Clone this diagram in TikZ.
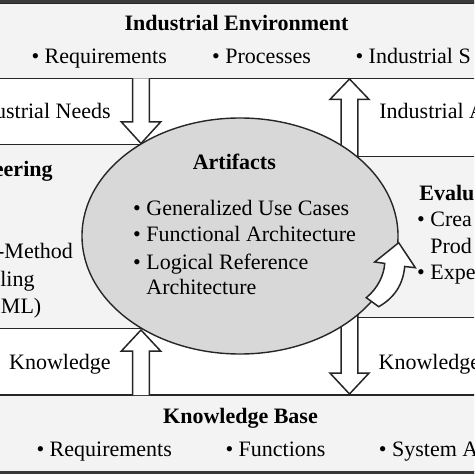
\documentclass[tikz,border=0pt]{standalone}
\usepackage{fontspec}
\setmainfont{Liberation Serif}
\usetikzlibrary{shapes.geometric}
\definecolor{linegray}{HTML}{262626}
\definecolor{framegray}{HTML}{3A3A3A}
\definecolor{panelgray}{HTML}{F3F3F3}
\definecolor{artgray}{HTML}{D8D8D8}
\newcommand\bodyfont{\fontsize{11}{13.2}\selectfont}
\tikzset{
  panel/.style={draw=linegray,fill=panelgray,line width=0.75pt},
  blockarrow/.style={draw=linegray,fill=white,line width=0.75pt},
  txt/.style={inner sep=0pt,anchor=base west},
  txtr/.style={inner sep=0pt,anchor=base east},
  bold/.style={font=\bodyfont\bfseries},
  ttl/.style={inner sep=0pt,anchor=base,bold},
}
\begin{document}
\begin{tikzpicture}[x=0.5pt,y=-0.5pt,font=\bodyfont]
\useasboundingbox (0,0) rectangle (474,474);
\clip (0,0) rectangle (474,474);
% panels
\draw[panel] (-5,3) rectangle (479,78.5);
\draw[panel] (-5,395) rectangle (479,471.5);
\draw[panel] (-5,144.5) rectangle (240,328.3);
\draw[panel] (240,156.7) rectangle (479,317.3);
\draw[framegray,line width=1.5pt] (-5,1.5) rectangle (479,472.5);
% straight block arrows
\foreach \x/\ya/\yb/\yt in {141/78.5/122/143.5, 141/395/351/330, 349.5/160/99.5/79, 349.5/312/373/394}
  \draw[blockarrow] (\x-8.4,\ya) -- (\x-8.4,\yb) -- (\x-19.6,\yb) -- (\x,\yt) -- (\x+19.6,\yb) -- (\x+8.4,\yb) -- (\x+8.4,\ya);
% artifacts
\node[ellipse,draw=linegray,fill=artgray,line width=0.7pt,minimum width=158pt,minimum height=118pt,inner sep=0pt] (art) at (240,236) {};
\draw[blockarrow] (366.3,297.7) .. controls (378,288) and (384,275) .. (384.7,263.4) -- (374.7,262) -- (398.7,242.7) -- (415.3,267.7) -- (404.7,266.5) .. controls (403,285) and (394,298) .. (378.7,306.7) -- cycle;
% texts
\node[ttl] (envtitle) at (236.5,30.5) {Industrial Environment};
\node[txt] (env1) at (31.1,63.3) {\textbullet{} Requirements};
\node[txt] (env2) at (211.8,63.3) {\textbullet{} Processes};
\node[txt] (env3) at (355.1,63.3) {\textbullet{} Industrial S};
\node[txtr] (needs) at (111,118.5) {ustrial Needs};
\node[txt] (appl) at (379,119) {Industrial A};
\node[txtr,bold] (engtitle) at (53,176.7) {eering};
\node[txtr] (eng1) at (73.3,258.3) {-Method};
\node[txtr] (eng2) at (35,286.7) {ling};
\node[txtr] (eng3) at (41.7,313.3) {ML)};
\node[ttl] (arttitle) at (234.3,170) {Artifacts};
\node[txt] (art1) at (132.8,216) {\textbullet{} Generalized Use Cases};
\node[txt] (art2) at (132.8,241.7) {\textbullet{} Functional Architecture};
\node[txt] (art3) at (132.8,269.3) {\textbullet{} Logical Reference};
\node[txt] (art4) at (146,295) {Architecture};
\node[txt,bold] (evaltitle) at (419,201) {Evalu};
\node[txt] (eval1) at (416.8,227) {\textbullet{} Crea};
\node[txt] (eval2) at (430,254) {Prod};
\node[txt] (eval3) at (416.8,280) {\textbullet{} Expe};
\node[txtr] (knowin) at (111,369.3) {Knowledge};
\node[txt] (knowout) at (378.3,369.3) {Knowledge};
\node[ttl] (kbtitle) at (240.5,423.3) {Knowledge Base};
\node[txt] (kb1) at (36.1,456.7) {\textbullet{} Requirements};
\node[txt] (kb2) at (225.1,456.7) {\textbullet{} Functions};
\node[txt] (kb3) at (378.5,456.7) {\textbullet{} System A};
\end{tikzpicture}
\end{document}
